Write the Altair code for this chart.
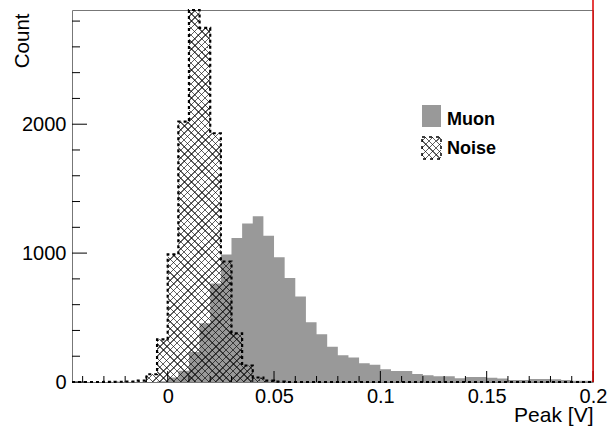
import altair as alt
import pandas as pd

# ---------------- data ----------------
x_min, x_max = -0.045, 0.2
bin_width = 0.005
y_max = 2886

muon_counts = [0, 0, 0, 0, 0, 0, 0, 0, 5, 35, 88, 232, 455, 765, 990, 1118, 1229,
               1285, 1135, 968, 806, 663, 463, 370, 273, 208, 190, 145, 133, 99, 85,
               85, 62, 52, 44, 44, 29, 39, 38, 33, 28, 16, 16, 23, 23, 22, 16, 10, 10]
noise_counts = [0, 0, 0, 1, 2, 4, 10, 60, 330, 990, 2020, 2886, 2748, 1930, 935, 378,
                128, 35, 10, 3, 0, 0, 0, 0, 0, 0, 0, 0, 0, 0, 0, 0, 0, 0, 0, 0, 0, 0,
                0, 0, 0, 0, 0, 0, 0, 0, 0, 0, 0]
bin_left = [round(x_min + i * bin_width, 4) for i in range(len(muon_counts))]

x_major_ticks = [0, 0.05, 0.1, 0.15, 0.2]
x_minor_ticks = [-0.04, -0.03, -0.02, -0.01, 0.01, 0.02, 0.03, 0.04, 0.06, 0.07, 0.08,
                 0.09, 0.11, 0.12, 0.13, 0.14, 0.16, 0.17, 0.18, 0.19]
y_major_ticks = [0, 1000, 2000]
y_minor_ticks = [200, 400, 600, 800, 1200, 1400, 1600, 1800, 2200, 2400, 2600, 2800]
legend_labels = ["Muon", "Noise"]
x_title = "Peak [V]"
y_title = "Count"

# ---------------- layout / style ----------------
W, H = 521, 372
FONT = "Liberation Sans"
GRAY = "#999999"
HATCH = "rgba(0,0,0,0.62)"
CLEAR = "rgba(0,0,0,0)"


def hatch_stops(span, period=7.0, lw=1.5):
    stops = [{"offset": 0, "color": CLEAR}]
    s = period / 2.0
    while s + lw < span:
        o1 = round(s / span, 6)
        o2 = round((s + lw) / span, 6)
        stops += [{"offset": o1, "color": CLEAR}, {"offset": o1, "color": HATCH},
                  {"offset": o2, "color": HATCH}, {"offset": o2, "color": CLEAR}]
        s += period
    stops.append({"offset": 1, "color": CLEAR})
    return stops


def hatch_gradients(w, h):
    r = h / w
    a = (1 + r) / (1 + r * r)
    b = a * r
    stops = hatch_stops(w + h)
    g1 = {"gradient": "linear", "x1": 0, "y1": 0, "x2": a, "y2": b, "stops": stops}
    g2 = {"gradient": "linear", "x1": 0, "y1": 1, "x2": a, "y2": 1 - b, "stops": stops}
    return g1, g2


xscale = alt.Scale(domain=[x_min, x_max], nice=False, zero=False)
yscale = alt.Scale(domain=[0, y_max], nice=False, zero=False)

edges = bin_left + [x_max]
muon_df = pd.DataFrame({"x": edges, "c": muon_counts + [muon_counts[-1]]})
noise_df = pd.DataFrame({"x": edges, "c": noise_counts + [0]})

xaxis = alt.Axis(values=x_major_ticks, format="~g", tickSize=0, domain=False, grid=False,
                 labelFont=FONT, labelFontSize=20, labelColor="black", labelPadding=4,
                 labelFlush=False, labelOverlap=False, title=x_title, titleFont=FONT,
                 titleFontSize=21, titleFontWeight="normal", titleColor="black",
                 titleAlign="right", titleAnchor="end", titleX=W, titleY=39,
                 titleBaseline="alphabetic")
yaxis = alt.Axis(values=y_major_ticks, format="d", tickSize=0, domain=False, grid=False,
                 labelFont=FONT, labelFontSize=20, labelColor="black", labelPadding=6,
                 labelOverlap=False, title=y_title, titleFont=FONT, titleFontSize=20.5,
                 titleFontWeight="normal", titleColor="black", titleAngle=-90,
                 titleAlign="right", titleX=-44, titleY=3, titleBaseline="alphabetic")

X = alt.X("x:Q", scale=xscale, axis=xaxis, title=x_title)
Y = alt.Y("c:Q", scale=yscale, axis=yaxis, title=y_title)

muon = alt.Chart(muon_df).mark_area(interpolate="step-after", fill=GRAY).encode(x=X, y=Y)

g1, g2 = hatch_gradients(W, H)
noise_h1 = alt.Chart(noise_df).mark_area(interpolate="step-after", fill=g1).encode(x=X, y=Y)
noise_h2 = alt.Chart(noise_df).mark_area(interpolate="step-after", fill=g2).encode(x=X, y=Y)
noise_line = alt.Chart(noise_df).mark_line(
    interpolate="step-after", color="black", strokeWidth=2.2, strokeDash=[3, 3]).encode(x=X, y=Y)


def yticks(vals, length):
    return alt.Chart(pd.DataFrame({"c": vals})).mark_rule(color="black", strokeWidth=1).encode(
        y=Y, x=alt.value(0), x2=alt.value(length))


def xticks(vals, length):
    return alt.Chart(pd.DataFrame({"x": vals})).mark_rule(color="black", strokeWidth=1).encode(
        x=X, y=alt.value(H), y2=alt.value(H - length))


one = alt.Data(values=[{"x": x_max}])
red_line = alt.Chart(one).mark_rule(color="#dd0000", strokeWidth=1.5).encode(
    x=X, y=alt.value(-10), y2=alt.value(H))

# legend
LX0, LX1 = 350, 369
muon_box = alt.Chart(one).mark_rect(fill=GRAY).encode(
    x=alt.value(LX0), x2=alt.value(LX1), y=alt.value(95), y2=alt.value(117))
lg1, lg2 = hatch_gradients(LX1 - LX0, 22)
noise_box1 = alt.Chart(one).mark_rect(fill=lg1).encode(
    x=alt.value(LX0), x2=alt.value(LX1), y=alt.value(127), y2=alt.value(149))
noise_box2 = alt.Chart(one).mark_rect(fill=lg2, stroke="black", strokeWidth=1.5,
                                      strokeDash=[3, 4]).encode(
    x=alt.value(LX0), x2=alt.value(LX1), y=alt.value(127), y2=alt.value(149))
muon_txt = alt.Chart(one).mark_text(text=legend_labels[0], font=FONT, fontSize=18,
                                    fontWeight="bold", align="left", baseline="alphabetic",
                                    color="black").encode(x=alt.value(375), y=alt.value(114.5))
noise_txt = alt.Chart(one).mark_text(text=legend_labels[1], font=FONT, fontSize=18,
                                     fontWeight="bold", align="left", baseline="alphabetic",
                                     color="black").encode(x=alt.value(375), y=alt.value(143.5))

chart = alt.layer(
    muon, noise_h1, noise_h2, noise_line,
    yticks(y_major_ticks, 15), yticks(y_minor_ticks, 8),
    xticks(x_major_ticks, 11), xticks(x_minor_ticks, 6),
    red_line, muon_box, noise_box1, noise_box2, muon_txt, noise_txt,
).properties(
    width=W, height=H,
    padding={"left": 72, "top": 10, "right": 16, "bottom": 47},
    autosize=alt.AutoSizeParams(type="none"),
    background="white",
).configure_view(stroke="#777777", strokeWidth=1)

chart.save("out.html", embed_options={"renderer": "svg", "actions": False})
